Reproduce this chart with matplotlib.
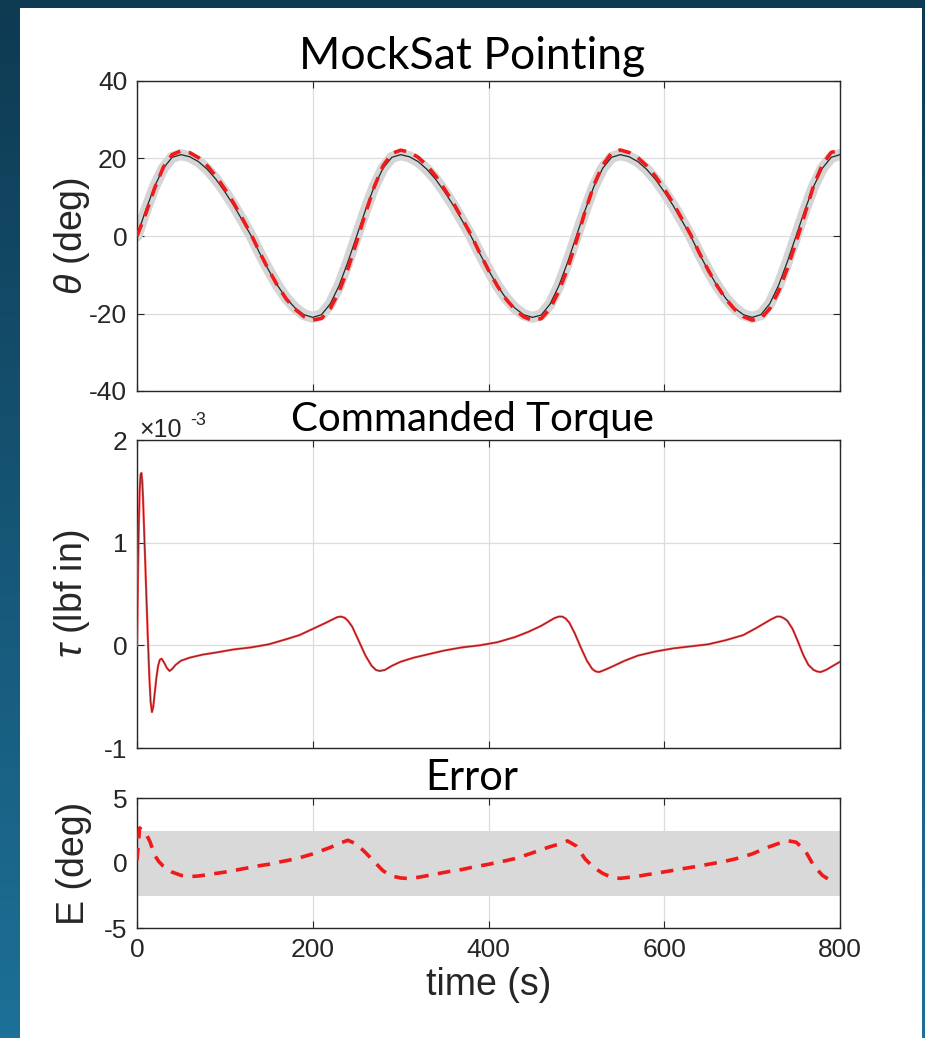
#Libraries
import numpy as np
import matplotlib.pyplot as plt
from matplotlib.colors import LinearSegmentedColormap
from matplotlib.patches import Rectangle

#Data
#time samples for the pointing plot (s)
time_s = [0, 10, 20, 30, 40, 50, 60, 70, 80, 90, 100, 110, 120, 130, 140, 150, 160, 170, 180, 190,
          200, 210, 220, 230, 240, 250, 260, 270, 280, 290, 300, 310, 320, 330, 340, 350, 360, 370, 380, 390,
          400, 410, 420, 430, 440, 450, 460, 470, 480, 490, 500, 510, 520, 530, 540, 550, 560, 570, 580, 590,
          600, 610, 620, 630, 640, 650, 660, 670, 680, 690, 700, 710, 720, 730, 740, 750, 760, 770, 780, 790, 800]

#commanded pointing angle (deg), black line
theta_cmd = [0.0, 6.7, 12.8, 17.5, 20.3, 21.0, 20.45, 19.2, 17.2, 14.6, 11.4, 7.9, 4.0, 0.0, -4.6, -8.9, -12.8, -16.1, -18.6, -20.3,
             -21.0, -20.3, -17.5, -12.8, -6.7, 0.0, 6.7, 12.8, 17.5, 20.3, 21.0, 20.45, 19.2, 17.2, 14.6, 11.4, 7.9, 4.0, 0.0, -4.5,
             -8.8, -12.8, -16.1, -18.6, -20.3, -21.0, -20.4, -17.6, -12.9, -6.8, 0.0, 6.7, 12.8, 17.5, 20.3, 21.0, 20.45, 19.2, 17.2, 14.6,
             11.4, 7.9, 4.0, 0.0, -4.6, -8.9, -12.8, -16.1, -18.6, -20.3, -21.0, -20.3, -17.5, -12.8, -6.7, 0.0, 6.7, 12.8, 17.5, 20.3, 21.0]

#measured pointing angle (deg), red dashed line
theta_meas = [0.0, 5.8, 12.3, 17.75, 21.0, 21.95, 21.5, 20.2, 18.1, 15.4, 12.1, 8.5, 4.45, 0.33, -4.4, -8.8, -12.85, -16.3, -18.9, -20.8,
              -21.7, -21.25, -18.7, -14.3, -8.45, -1.45, 5.9, 12.7, 18.1, 21.3, 22.15, 21.65, 20.3, 18.2, 15.45, 12.1, 8.5, 4.5, 0.35, -4.4,
              -8.8, -12.85, -16.3, -18.95, -20.85, -21.8, -21.3, -18.75, -14.25, -8.4, -1.3, 6.4, 13.15, 18.3, 21.4, 22.2, 21.55, 20.2, 18.1, 15.4,
              12.1, 8.5, 4.45, 0.34, -4.4, -8.8, -12.8, -16.25, -18.9, -20.8, -21.7, -21.3, -18.75, -14.3, -8.4, -1.6, 5.7, 13.0, 18.45, 21.6, 22.0]

#commanded torque (x1e-3 lbf in)
torque_time = [0, 1, 2, 3, 4, 5, 6, 7, 8, 10, 12, 14, 15.5, 17, 18.5, 20, 22, 24, 26, 28,
               31, 34, 37, 40, 44, 50, 60, 75, 90, 110, 130, 150, 170, 185, 200, 215, 222, 228, 232, 236,
               240, 245, 252, 260, 267, 272, 276, 282, 290, 300, 315, 330, 350, 370, 390, 410, 430, 445, 460, 468,
               475, 480, 484, 488, 492, 498, 505, 512, 518, 522, 526, 532, 540, 555, 570, 590, 610, 630, 650, 670,
               690, 705, 715, 722, 728, 732, 736, 740, 746, 752, 758, 764, 770, 774, 778, 784, 792, 800]
torque_e3 = [0.0, 0.6, 1.15, 1.5, 1.66, 1.68, 1.6, 1.4, 1.15, 0.65, 0.15, -0.3, -0.55, -0.65, -0.6, -0.48, -0.32, -0.2, -0.14, -0.13,
             -0.17, -0.22, -0.25, -0.23, -0.19, -0.15, -0.12, -0.09, -0.07, -0.04, -0.02, 0.01, 0.06, 0.1, 0.16, 0.22, 0.25, 0.275, 0.28, 0.27,
             0.24, 0.18, 0.05, -0.1, -0.2, -0.24, -0.25, -0.24, -0.2, -0.16, -0.12, -0.09, -0.05, -0.02, 0.0, 0.03, 0.08, 0.13, 0.19, 0.23,
             0.265, 0.28, 0.28, 0.26, 0.22, 0.12, -0.02, -0.15, -0.23, -0.255, -0.26, -0.24, -0.21, -0.15, -0.1, -0.06, -0.03, -0.01, 0.01, 0.05,
             0.1, 0.17, 0.22, 0.255, 0.28, 0.28, 0.265, 0.24, 0.16, 0.04, -0.09, -0.19, -0.24, -0.255, -0.26, -0.24, -0.2, -0.16]

#pointing error (deg)
err_time = [0, 3, 6, 10, 15, 20, 25, 30, 40, 50, 60, 70, 80, 90, 100, 110, 120, 130, 140, 150,
            160, 170, 180, 190, 200, 210, 220, 230, 240, 250, 260, 270, 280, 290, 300, 310, 320, 330, 340, 350,
            360, 370, 380, 390, 400, 410, 420, 430, 440, 450, 460, 470, 480, 490, 500, 510, 520, 530, 540, 550,
            560, 570, 580, 590, 600, 610, 620, 630, 640, 650, 660, 670, 680, 690, 700, 710, 720, 730, 740, 750,
            760, 770, 780, 788]
err_deg = [0.2, 2.7, 2.5, 2.3, 1.6, 0.6, 0.1, -0.25, -0.7, -0.95, -1.05, -1.0, -0.9, -0.8, -0.7, -0.58, -0.45, -0.33, -0.2, -0.1,
           0.05, 0.18, 0.32, 0.5, 0.7, 0.95, 1.2, 1.5, 1.75, 1.45, 0.8, 0.1, -0.6, -1.0, -1.15, -1.2, -1.1, -0.98, -0.85, -0.72,
           -0.6, -0.5, -0.35, -0.22, -0.1, 0.05, 0.18, 0.34, 0.55, 0.78, 1.03, 1.25, 1.45, 1.7, 1.3, 0.3, -0.35, -0.8, -1.1, -1.18,
           -1.1, -1.02, -0.9, -0.8, -0.68, -0.57, -0.45, -0.34, -0.23, -0.1, 0.02, 0.15, 0.3, 0.48, 0.7, 0.98, 1.26, 1.5, 1.72, 1.6,
           1.0, -0.2, -0.95, -1.3]
err_bound = 2.5

x_ticks = [0, 200, 400, 600, 800]

#Figure and backdrop
W, H = 925, 1038
plt.rcParams["axes.unicode_minus"] = False
plt.rcParams["mathtext.fontset"] = "custom"
plt.rcParams["mathtext.it"] = "Liberation Sans:italic"
plt.rcParams["mathtext.rm"] = "Liberation Sans"

fig = plt.figure(figsize=(W / 100, H / 100), dpi=100)
bg = fig.add_axes([0, 0, 1, 1])
grad = np.linspace(0, 1, 256).reshape(-1, 1)
cmap_bg = LinearSegmentedColormap.from_list("bg", ["#0e3a52", "#1d7097"])
bg.imshow(grad, aspect="auto", cmap=cmap_bg, extent=[0, 1, 0, 1], origin="upper")
bg.add_patch(Rectangle((20 / W, 0), 902 / W, 1030 / H, facecolor="white", edgecolor="none"))
bg.set_xlim(0, 1)
bg.set_ylim(0, 1)
bg.axis("off")

tick_font = "Liberation Sans"
title_font = "Lato"
label_size = 27


def style_axes(ax):
    ax.set_xlim(0, 800)
    ax.set_xticks(x_ticks)
    ax.grid(True, color="#dcdcdc", linewidth=0.9)
    ax.set_axisbelow(True)
    ax.tick_params(direction="in", length=5, top=True, right=True, colors="#262626",
                   labelsize=19, pad=7)
    for lab in ax.get_xticklabels() + ax.get_yticklabels():
        lab.set_fontfamily(tick_font)
    for sp in ax.spines.values():
        sp.set_color("#262626")
        sp.set_linewidth(1.0)


def px_axes(left, top, right, bottom):
    return [left / W, 1 - bottom / H, (right - left) / W, (bottom - top) / H]


#Pointing plot
ax1 = fig.add_axes(px_axes(137, 81, 840, 391))
ax1.plot(time_s, theta_cmd, color="#d5d5d5", linewidth=8, solid_capstyle="round", zorder=2)
ax1.plot(time_s, theta_cmd, color="#1e2a2a", linewidth=0.9, zorder=3)
ax1.plot(time_s, theta_meas, color="#f01a1a", linewidth=2.6, dashes=(3.5, 2.4), zorder=4)
ax1.set_ylim(-40, 40)
ax1.set_yticks([-40, -20, 0, 20, 40])
style_axes(ax1)
ax1.set_xticklabels([])
ax1.set_ylabel(r"$\theta$ (deg)", fontsize=label_size, family=tick_font, color="#262626")
ax1.yaxis.set_label_coords(-0.064, 0.5)

#Torque plot
ax2 = fig.add_axes(px_axes(137, 440, 840, 748))
ax2.plot(torque_time, torque_e3, color="#ff4040", linewidth=1.6, zorder=3)
ax2.plot(torque_time, torque_e3, color="#7a1f22", linewidth=0.6, zorder=4)
ax2.set_ylim(-1, 2)
ax2.set_yticks([-1, 0, 1, 2])
style_axes(ax2)
ax2.set_xticklabels([])
ax2.set_ylabel(r"$\tau$ (lbf in)", fontsize=label_size, family=tick_font, color="#262626")
ax2.yaxis.set_label_coords(-0.064, 0.5)
fig.text(139 / W, 1 - 437 / H, "\u00d710", fontsize=18, family=tick_font, color="#262626")
fig.text(190 / W, 1 - 425 / H, "-3", fontsize=13, family=tick_font, color="#262626")

#Error plot
ax3 = fig.add_axes(px_axes(137, 798, 840, 928))
ax3.axhspan(-err_bound, err_bound, color="#d9d9d9", linewidth=0, zorder=1)
ax3.plot(err_time, err_deg, color="#f01a1a", linewidth=2.6, dashes=(3.5, 2.6), zorder=4)
ax3.set_ylim(-5, 5)
ax3.set_yticks([-5, 0, 5])
style_axes(ax3)
ax3.set_ylabel("E (deg)", fontsize=label_size, family=tick_font, color="#262626")
ax3.yaxis.set_label_coords(-0.064, 0.5)
ax3.set_xlabel("time (s)", fontsize=label_size, family=tick_font, color="#262626", labelpad=4)

#Titles (text boxes centred a bit left of the axes)
fig.text(472 / W, 1 - 57 / H, "MockSat Pointing", fontsize=32, family=title_font,
         ha="center", va="center", color="black")
fig.text(472 / W, 1 - 419 / H, "Commanded Torque", fontsize=29, family=title_font,
         ha="center", va="center", color="black")
fig.text(472 / W, 1 - 778 / H, "Error", fontsize=30, family=title_font,
         ha="center", va="center", color="black")

plt.savefig("out.png", dpi=100)
